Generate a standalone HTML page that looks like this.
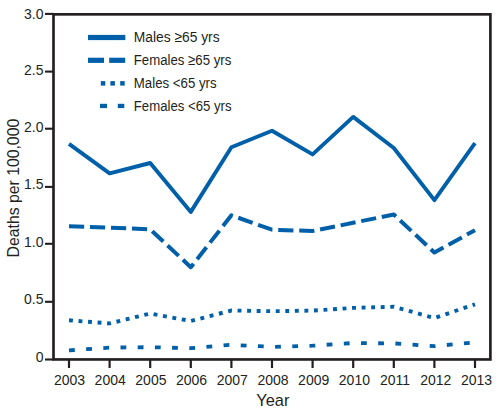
<!DOCTYPE html>
<html><head><meta charset="utf-8"><style>
html,body{margin:0;padding:0;background:#fff;width:497px;height:410px;overflow:hidden}
svg{display:block}
text{font-family:"Liberation Sans",sans-serif;fill:#231f20}
</style></head><body>
<svg width="497" height="410" viewBox="0 0 497 410">
<polyline points="69.0,143.9 109.6,173.3 150.2,163.0 190.8,211.9 231.4,147.3 272.0,130.7 312.6,154.4 353.2,116.9 393.8,148.0 434.4,200.1 475.0,143.1" fill="none" stroke="#005fa9" stroke-width="3.9" stroke-linejoin="round"/>
<polyline points="69.0,226.3 109.6,227.6 150.2,229.3 190.8,267.2 231.4,215.3 272.0,229.7 312.6,231.0 353.2,222.8 393.8,214.5 434.4,252.5 475.0,230.2" fill="none" stroke="#005fa9" stroke-width="4.0" stroke-linejoin="round" stroke-dasharray="15.2 5.8"/>
<polyline points="69.0,320.3 109.6,323.4 150.2,313.5 190.8,321.0 231.4,310.5 272.0,311.2 312.6,310.6 353.2,307.9 393.8,306.8 434.4,318.0 475.0,304.3" fill="none" stroke="#005fa9" stroke-width="3.9" stroke-dasharray="3.9 5.65"/>
<polyline points="69.0,350.4 109.6,347.6 150.2,347.2 190.8,348.2 231.4,344.8 272.0,346.9 312.6,345.7 353.2,343.0 393.8,343.4 434.4,346.2 475.0,342.3" fill="none" stroke="#005fa9" stroke-width="3.8" stroke-dasharray="5.8 11.4"/>
<rect x="53.5" y="14.35" width="436.9" height="345.1" fill="none" stroke="#231f20" stroke-width="2.65"/>
<line x1="45" y1="359.5" x2="53.5" y2="359.5" stroke="#231f20" stroke-width="2.1"/>
<text x="43.5" y="361.6" text-anchor="end" font-size="14">0</text>
<line x1="45" y1="301.8" x2="53.5" y2="301.8" stroke="#231f20" stroke-width="2.1"/>
<text x="43.5" y="303.8" text-anchor="end" font-size="14">0.5</text>
<line x1="45" y1="243.8" x2="53.5" y2="243.8" stroke="#231f20" stroke-width="2.1"/>
<text x="43.5" y="246.9" text-anchor="end" font-size="14">1.0</text>
<line x1="45" y1="186.9" x2="53.5" y2="186.9" stroke="#231f20" stroke-width="2.1"/>
<text x="43.5" y="188.9" text-anchor="end" font-size="14">1.5</text>
<line x1="45" y1="128.7" x2="53.5" y2="128.7" stroke="#231f20" stroke-width="2.1"/>
<text x="43.5" y="131.8" text-anchor="end" font-size="14">2.0</text>
<line x1="45" y1="71.6" x2="53.5" y2="71.6" stroke="#231f20" stroke-width="2.1"/>
<text x="43.5" y="74.9" text-anchor="end" font-size="14">2.5</text>
<line x1="45" y1="13.9" x2="53.5" y2="13.9" stroke="#231f20" stroke-width="2.1"/>
<text x="43.5" y="18.9" text-anchor="end" font-size="14">3.0</text>
<line x1="69.0" y1="359.5" x2="69.0" y2="368" stroke="#231f20" stroke-width="2.2"/>
<text x="69.5" y="385.1" text-anchor="middle" font-size="14">2003</text>
<line x1="109.6" y1="359.5" x2="109.6" y2="368" stroke="#231f20" stroke-width="2.2"/>
<text x="110.2" y="385.1" text-anchor="middle" font-size="14">2004</text>
<line x1="150.2" y1="359.5" x2="150.2" y2="368" stroke="#231f20" stroke-width="2.2"/>
<text x="150.9" y="385.1" text-anchor="middle" font-size="14">2005</text>
<line x1="190.8" y1="359.5" x2="190.8" y2="368" stroke="#231f20" stroke-width="2.2"/>
<text x="191.6" y="385.1" text-anchor="middle" font-size="14">2006</text>
<line x1="231.4" y1="359.5" x2="231.4" y2="368" stroke="#231f20" stroke-width="2.2"/>
<text x="232.3" y="385.1" text-anchor="middle" font-size="14">2007</text>
<line x1="272.0" y1="359.5" x2="272.0" y2="368" stroke="#231f20" stroke-width="2.2"/>
<text x="273.0" y="385.1" text-anchor="middle" font-size="14">2008</text>
<line x1="312.6" y1="359.5" x2="312.6" y2="368" stroke="#231f20" stroke-width="2.2"/>
<text x="313.7" y="385.1" text-anchor="middle" font-size="14">2009</text>
<line x1="353.2" y1="359.5" x2="353.2" y2="368" stroke="#231f20" stroke-width="2.2"/>
<text x="354.4" y="385.1" text-anchor="middle" font-size="14">2010</text>
<line x1="393.8" y1="359.5" x2="393.8" y2="368" stroke="#231f20" stroke-width="2.2"/>
<text x="395.1" y="385.1" text-anchor="middle" font-size="14">2011</text>
<line x1="434.4" y1="359.5" x2="434.4" y2="368" stroke="#231f20" stroke-width="2.2"/>
<text x="435.8" y="385.1" text-anchor="middle" font-size="14">2012</text>
<line x1="475.0" y1="359.5" x2="475.0" y2="368" stroke="#231f20" stroke-width="2.2"/>
<text x="476.5" y="385.1" text-anchor="middle" font-size="14">2013</text>
<text x="272.8" y="405.6" text-anchor="middle" font-size="16.4">Year</text>
<text transform="translate(19,257.4) rotate(-90)" x="0" y="0" font-size="17" textLength="138.6" lengthAdjust="spacingAndGlyphs">Deaths per 100,000</text>
<text x="133.8" y="42.1" font-size="15.3" textLength="85.8" lengthAdjust="spacingAndGlyphs">Males ≥65 yrs</text>
<rect x="88" y="34.9" width="37.3" height="5.2" fill="#005fa9"/>
<text x="133.8" y="64.9" font-size="15.3" textLength="97.5" lengthAdjust="spacingAndGlyphs">Females ≥65 yrs</text>
<rect x="88" y="57.7" width="16" height="5.2" fill="#005fa9"/>
<rect x="109.2" y="57.7" width="16" height="5.2" fill="#005fa9"/>
<text x="133.8" y="87.6" font-size="15.3" textLength="82.8" lengthAdjust="spacingAndGlyphs">Males &lt;65 yrs</text>
<rect x="100.8" y="81.1" width="4.5" height="4.5" fill="#005fa9"/>
<rect x="110.4" y="81.1" width="4.5" height="4.5" fill="#005fa9"/>
<rect x="120.2" y="81.1" width="4.5" height="4.5" fill="#005fa9"/>
<text x="133.8" y="110.6" font-size="15.3" textLength="97.8" lengthAdjust="spacingAndGlyphs">Females &lt;65 yrs</text>
<rect x="100" y="103.8" width="7" height="4.3" fill="#005fa9"/>
<rect x="117.8" y="103.8" width="6.5" height="4.3" fill="#005fa9"/>
</svg>
</body></html>
